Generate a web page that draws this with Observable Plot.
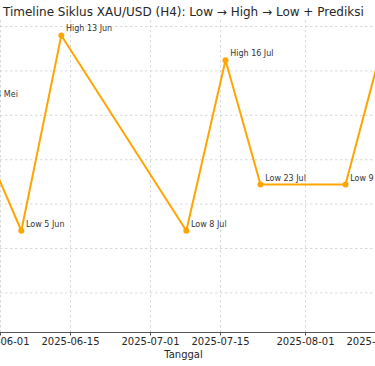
<!DOCTYPE html>
<html>
<head>
<meta charset="utf-8">
<script src="https://cdn.jsdelivr.net/npm/d3@7"></script>
<script src="https://cdn.jsdelivr.net/npm/@observablehq/plot@0.6"></script>
<style>
  html, body { margin: 0; padding: 0; background: white; overflow: hidden; width: 375px; height: 366px; }
  #wrap { position: relative; width: 375px; }
  #title { position: relative; height: 20px; }
  #title span { position: absolute; left: 3px; top: 6px; font-family: "DejaVu Sans"; font-size: 12px; line-height: 12px; color: #262626; white-space: nowrap; }
</style>
</head>
<body>
<div id="wrap">
  <div id="title"><span>Timeline Siklus XAU/USD (H4): Low → High → Low + Prediksi</span></div>
  <div id="chart"></div>
</div>
<script>
// Data
const dates = ["2025-05-25T00:00Z", "2025-06-05T04:00Z", "2025-06-13T04:00Z", "2025-07-08T04:00Z", "2025-07-16T00:00Z", "2025-07-23T00:00Z", "2025-08-09T00:00Z", "2025-08-17T00:00Z"];
const prices = [3408, 3335, 3445, 3335, 3431, 3361, 3361, 3446];
const labels = ["High 24 Mei", "Low 5 Jun", "High 13 Jun", "Low 8 Jul", "High 16 Jul", "Low 23 Jul", "Low 9 Agu", "High 17 Agu"];
const xTicks = ["2025-06-01", "2025-06-15", "2025-07-01", "2025-07-15", "2025-08-01", "2025-08-15"];
const xDomain = ["2025-06-01", "2025-08-15"];
const yGrid = [3300, 3325, 3350, 3375, 3400, 3425, 3450];
const yDomain = [3277.7, 3453.4];
const xLabel = "Tanggal";

const data = dates.map((d, i) => ({date: new Date(d), price: prices[i], label: labels[i]}));
const tickDates = xTicks.map(d => new Date(d));
const gridStyle = {stroke: "#cfcfcf", strokeWidth: 0.8, strokeDasharray: "2.5,2.5"};

const chart = Plot.plot({
  width: 375,
  height: 346,
  marginLeft: 0,
  marginRight: 0,
  marginTop: 0,
  marginBottom: 34,
  style: {fontFamily: "DejaVu Sans", fontSize: "10px", color: "#262626", background: "white"},
  x: {type: "utc", domain: xDomain.map(d => new Date(d))},
  y: {domain: yDomain, axis: null},
  marks: [
    Plot.ruleX(tickDates, gridStyle),
    Plot.ruleY(yGrid, gridStyle),
    Plot.axisX(tickDates, {tickSize: 3.5, tickPadding: 1.7, tickFormat: d3.utcFormat("%Y-%m-%d"), label: null, color: "#262626", stroke: "#555", fontSize: 10}),
    Plot.ruleY([yDomain[0]], {stroke: "#555", strokeWidth: 1.2}),
    Plot.line(data, {x: "date", y: "price", stroke: "orange", strokeWidth: 2, clip: true}),
    Plot.dot(data, {x: "date", y: "price", r: 3, fill: "orange", clip: true}),
    Plot.text(data, {x: "date", y: "price", text: "label", dx: 4.7, dy: -4, textAnchor: "start", lineAnchor: "bottom", fontSize: 8, fill: "#333"}),
    Plot.text([xLabel], {text: d => d, frameAnchor: "bottom", dx: -4.5, dy: 25.5, lineAnchor: "bottom", fontSize: 10, fill: "#262626"})
  ]
});
document.getElementById("chart").appendChild(chart);
</script>
</body>
</html>
